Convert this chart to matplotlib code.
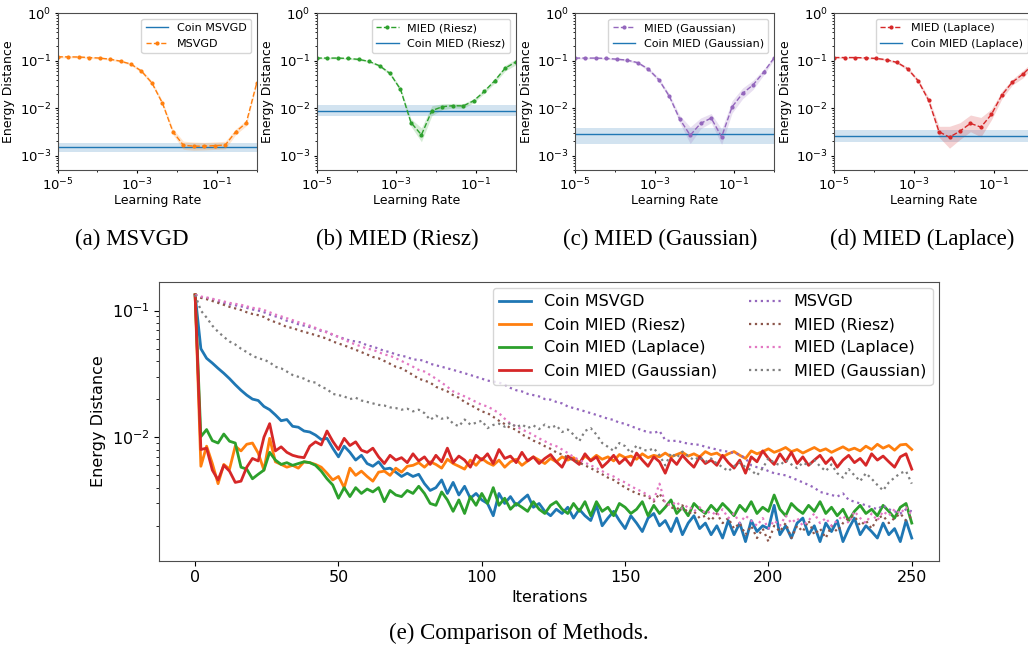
import numpy as np
import matplotlib
matplotlib.use("Agg")
import matplotlib.pyplot as plt
from matplotlib.ticker import FixedLocator, NullFormatter

# ---- top row: energy distance vs learning rate ----
lr = np.logspace(-5, 0, 20)

msvgd_lr = [0.121, 0.121, 0.120, 0.117, 0.114, 0.108, 0.098, 0.085, 0.0605, 0.034,
            0.0128, 0.0032, 0.00166, 0.00159, 0.00159, 0.00163, 0.00168, 0.0032, 0.0049, 0.034]
msvgd_spread = [1.05, 1.05, 1.05, 1.05, 1.05, 1.05, 1.05, 1.06, 1.08, 1.10,
                1.12, 1.15, 1.22, 1.22, 1.20, 1.20, 1.20, 1.15, 1.15, 1.10]
riesz_lr = [0.114, 0.114, 0.114, 0.112, 0.107, 0.097, 0.0785, 0.054, 0.025, 0.0050,
            0.00275, 0.0089, 0.0108, 0.0113, 0.0112, 0.0144, 0.0226, 0.038, 0.070, 0.094]
riesz_spread = [1.04, 1.04, 1.04, 1.04, 1.05, 1.05, 1.06, 1.08, 1.10, 1.20,
                1.40, 1.27, 1.15, 1.12, 1.12, 1.10, 1.10, 1.12, 1.15, 1.15]
gauss_lr = [0.114, 0.114, 0.114, 0.112, 0.108, 0.103, 0.091, 0.0667, 0.040, 0.018,
            0.0059, 0.0027, 0.0048, 0.0062, 0.0025, 0.0107, 0.0205, 0.031, 0.057, 0.114]
gauss_spread = [1.04, 1.04, 1.04, 1.04, 1.05, 1.05, 1.06, 1.08, 1.10, 1.12,
                1.20, 1.50, 1.30, 1.25, 1.45, 1.35, 1.30, 1.25, 1.15, 1.10]
laplace_lr = [0.117, 0.117, 0.117, 0.115, 0.112, 0.105, 0.092, 0.068, 0.038, 0.0148,
              0.0032, 0.00245, 0.0033, 0.0048, 0.0040, 0.0074, 0.019, 0.0355, 0.052, 0.085]
laplace_spread = [1.04, 1.04, 1.04, 1.04, 1.05, 1.05, 1.06, 1.08, 1.10, 1.15,
                  1.30, 1.70, 1.50, 1.50, 1.60, 1.30, 1.20, 1.15, 1.20, 1.15]

# coin baselines: mean, lower, upper
coin_msvgd_lr = [0.00154, 0.00117, 0.00181]
coin_riesz_lr = [0.00886, 0.00676, 0.0119]
coin_gauss_lr = [0.00286, 0.0018, 0.0039]
coin_laplace_lr = [0.00259, 0.00197, 0.00347]

# ---- bottom: energy distance vs iterations ----
iters = np.arange(0, 251, 2)

coin_msvgd = [
    .133, .050, .042, .0385, .035, .032, .029, .026, .0235, .0215,
    .020, .0195, .0175, .0165, .015, .0135, .0138, .0122, .0120, .0112,
    .0110, .0104, .0096, .0098, .0082, .0070, .0085, .0076, .0066, .0072,
    .0062, .0059, .0064, .0056, .0057, .0053, .0049, .0052, .0049, .0051,
    .0043, .0038, .0040, .0046, .0036, .0044, .0035, .0041, .0033, .0036,
    .0032, .0030, .0024, .0036, .0030, .0034, .0029, .0032, .0035, .0028,
    .0030, .0026, .0024, .0027, .0025, .0028, .0023, .0027, .0024, .0022,
    .0029, .0020, .0023, .0026, .0022, .0019, .0024, .0021, .0018, .0023,
    .0025, .0020, .0022, .0018, .0023, .0017, .0021, .0024, .0019, .0021,
    .0017, .0020, .0016, .0022, .0017, .0021, .0015, .0022, .0018, .0020,
    .0019, .0029, .0017, .0020, .0016, .0021, .0023, .0017, .0020, .0015,
    .0021, .0018, .0022, .0015, .0019, .0023, .0017, .0020, .0018, .0016,
    .0021, .0017, .0019, .0015, .0022, .0016]
coin_riesz = [
    .133, .0059, .0085, .0062, .0043, .0061, .0056, .0085, .0078, .0088,
    .0090, .0075, .0055, .0098, .0064, .0061, .0058, .0060, .0057, .0064,
    .0063, .0061, .0058, .0052, .0046, .0049, .0040, .0057, .0050, .0054,
    .0049, .0045, .0053, .0054, .0050, .0057, .0053, .0059, .0060, .0063,
    .0058, .0064, .0061, .0057, .0067, .0062, .0059, .0056, .0066, .0060,
    .0068, .0063, .0060, .0066, .0058, .0064, .0067, .0060, .0065, .0070,
    .0066, .0062, .0068, .0064, .0070, .0066, .0069, .0063, .0071, .0066,
    .0072, .0067, .0070, .0065, .0073, .0069, .0071, .0067, .0074, .0069,
    .0072, .0070, .0075, .0070, .0073, .0076, .0071, .0074, .0070, .0077,
    .0073, .0075, .0070, .0074, .0077, .0072, .0068, .0078, .0074, .0077,
    .0081, .0076, .0079, .0083, .0077, .0080, .0075, .0079, .0083, .0078,
    .0081, .0076, .0080, .0084, .0079, .0082, .0078, .0085, .0080, .0088,
    .0082, .0086, .0079, .0087, .0088, .0080]
coin_laplace = [
    .133, .0101, .0115, .0094, .0090, .0106, .0093, .0090, .0058, .0056,
    .0047, .0051, .0055, .0076, .0066, .0061, .0063, .0060, .0062, .0064,
    .0063, .0060, .0054, .0047, .0042, .0033, .0040, .0034, .0040, .0036,
    .0039, .0037, .0040, .0031, .0038, .0035, .0034, .0038, .0036, .0041,
    .0036, .0030, .0029, .0037, .0032, .0026, .0032, .0025, .0034, .0029,
    .0036, .0030, .0040, .0029, .0033, .0027, .0030, .0028, .0026, .0031,
    .0027, .0025, .0029, .0031, .0027, .0025, .0030, .0026, .0031, .0024,
    .0031, .0026, .0028, .0024, .0030, .0028, .0025, .0027, .0031, .0024,
    .0029, .0025, .0028, .0032, .0025, .0028, .0024, .0030, .0027, .0025,
    .0029, .0026, .0030, .0027, .0024, .0029, .0026, .0031, .0025, .0028,
    .0026, .0035, .0027, .0024, .0030, .0027, .0025, .0029, .0026, .0031,
    .0025, .0028, .0024, .0027, .0022, .0026, .0029, .0025, .0027, .0024,
    .0029, .0026, .0023, .0028, .0030, .0021]
coin_gauss = [
    .133, .0080, .0082, .0055, .0046, .0060, .0054, .0044, .0045, .0058,
    .0068, .0065, .0100, .0128, .0078, .0084, .0076, .0072, .0070, .0069,
    .0085, .0092, .0087, .0112, .0093, .0080, .0098, .0086, .0092, .0079,
    .0076, .0082, .0070, .0062, .0072, .0066, .0069, .0063, .0074, .0065,
    .0070, .0061, .0072, .0064, .0082, .0063, .0071, .0066, .0058, .0072,
    .0066, .0074, .0062, .0080, .0068, .0071, .0063, .0076, .0065, .0070,
    .0062, .0068, .0073, .0064, .0058, .0071, .0066, .0061, .0074, .0065,
    .0070, .0058, .0064, .0072, .0062, .0068, .0060, .0075, .0066, .0059,
    .0070, .0064, .0052, .0068, .0061, .0072, .0064, .0058, .0070, .0062,
    .0066, .0060, .0072, .0063, .0057, .0066, .0052, .0070, .0064, .0078,
    .0068, .0061, .0074, .0064, .0076, .0062, .0070, .0060, .0066, .0072,
    .0062, .0069, .0058, .0066, .0072, .0063, .0068, .0060, .0074, .0066,
    .0071, .0064, .0058, .0070, .0074, .0056]
msvgd = [
    .133, .128, .126, .122, .118, .115, .112, .110, .108, .105,
    .102, .100, .097, .093, .090, .087, .083, .081, .078, .076,
    .074, .072, .069, .068, .064, .062, .060, .058, .057, .056,
    .053, .052, .050, .048, .047, .045, .044, .043, .041, .041,
    .040, .038, .037, .036, .035, .034, .033, .032, .031, .030,
    .029, .028, .0275, .027, .026, .0245, .0235, .023, .022, .0215,
    .021, .020, .0198, .019, .0185, .0175, .017, .0165, .016, .0155,
    .015, .0145, .014, .0137, .013, .0128, .0122, .0118, .0113, .011,
    .0108, .0112, .0095, .0093, .0094, .0091, .0089, .0088, .0087, .0084,
    .0082, .0080, .0078, .0077, .0075, .0073, .0068, .0060, .0058, .0057,
    .0054, .0052, .0051, .0050, .0048, .0046, .0044, .0042, .0040, .0037,
    .0036, .0035, .0034, .0036, .0032, .0031, .0030, .0029, .0028, .0027,
    .0029, .0027, .0026, .0025, .0027, .0026]
mied_riesz = [
    .133, .126, .123, .119, .115, .111, .107, .104, .101, .097,
    .094, .092, .089, .084, .081, .078, .074, .073, .070, .068,
    .066, .064, .062, .060, .057, .055, .053, .051, .049, .047,
    .045, .043, .042, .040, .038, .036, .035, .033, .031, .029,
    .028, .027, .025, .024, .023, .0215, .0205, .019, .018, .017,
    .016, .0155, .0145, .0135, .0127, .0118, .0115, .0105, .0100, .0094,
    .0090, .0085, .0081, .0076, .0073, .0069, .0066, .0063, .0060, .0057,
    .0054, .0051, .0048, .0046, .0043, .0040, .0038, .0036, .0035, .0034,
    .0031, .0036, .0030, .0028, .0027, .0029, .0025, .0026, .0023, .0024,
    .0022, .0025, .0021, .0023, .0019, .0021, .0017, .0020, .0016, .0019,
    .0015, .0020, .0018, .0021, .0016, .0020, .0018, .0022, .0017, .0019,
    .0016, .0020, .0018, .0021, .0023, .0024, .0020, .0022, .0019, .0023,
    .0024, .0021, .0023, .0025, .0022, .0024]
mied_laplace = [
    .133, .129, .127, .124, .121, .118, .115, .113, .111, .108,
    .105, .104, .101, .097, .093, .090, .087, .084, .081, .079,
    .076, .073, .070, .067, .065, .062, .059, .056, .054, .052,
    .050, .049, .047, .045, .044, .042, .040, .038, .036, .034,
    .033, .031, .029, .027, .025, .023, .022, .021, .020, .019,
    .018, .0175, .0165, .0155, .014, .0128, .0122, .0115, .0110, .0104,
    .0098, .0093, .0088, .0085, .0080, .0075, .0070, .0066, .0063, .0060,
    .0057, .0054, .0051, .0049, .0046, .0044, .0041, .0039, .0037, .0035,
    .0032, .0043, .0030, .0029, .0031, .0027, .0029, .0026, .0028, .0025,
    .0026, .0024, .0027, .0023, .0025, .0021, .0024, .0022, .0020, .0023,
    .0019, .0022, .0020, .0024, .0021, .0023, .0020, .0022, .0025, .0021,
    .0023, .0020, .0022, .0024, .0021, .0026, .0023, .0021, .0025, .0022,
    .0026, .0024, .0027, .0025, .0028, .0024]
mied_gauss = [
    .133, .100, .088, .076, .068, .062, .057, .054, .050, .047,
    .044, .042, .041, .039, .036, .035, .033, .031, .030, .029,
    .0275, .027, .025, .024, .022, .0215, .021, .020, .0205, .0195,
    .019, .0185, .018, .0178, .0172, .017, .0165, .0168, .016, .0165,
    .0155, .0137, .0148, .0140, .0143, .0128, .0122, .0138, .0126, .0130,
    .0135, .0118, .0125, .0128, .0121, .0130, .0120, .0126, .0118, .0124,
    .0116, .0126, .0118, .0124, .0110, .0115, .0105, .0093, .0112, .0118,
    .0105, .0090, .0084, .0078, .0090, .0085, .0075, .0086, .0080, .0078,
    .0082, .0072, .0060, .0075, .0069, .0077, .0071, .0066, .0070, .0064,
    .0068, .0062, .0058, .0054, .0059, .0063, .0058, .0055, .0050, .0057,
    .0068, .0063, .0060, .0066, .0061, .0057, .0063, .0060, .0066, .0059,
    .0054, .0061, .0052, .0048, .0056, .0050, .0045, .0052, .0047, .0042,
    .0038, .0044, .0048, .0052, .0054, .0043]

SPINE = "0.3"


def style_spines(ax):
    for s in ax.spines.values():
        s.set_color(SPINE)


def lr_panel(ax, y, spread, coin, color, name, coin_name, coin_first):
    y = np.array(y)
    f = np.array(spread)
    ax.axhspan(coin[1], coin[2], color="C0", alpha=0.2, lw=0)
    h_coin = ax.axhline(coin[0], color="C0", lw=1.0, label=coin_name)
    ax.fill_between(lr, y / f, y * f, color=color, alpha=0.2, lw=0)
    h_m, = ax.plot(lr, y, ls="--", marker=".", ms=4, lw=1.0, color=color, label=name)
    ax.set_xscale("log")
    ax.set_yscale("log")
    ax.set_xlim(1e-5, 1)
    ax.set_ylim(5e-4, 1)
    ax.set_xticks([1e-5, 1e-3, 1e-1])
    ax.xaxis.set_minor_locator(FixedLocator([1e-4, 1e-2, 1]))
    ax.xaxis.set_minor_formatter(NullFormatter())
    ax.set_yticks([1e-3, 1e-2, 1e-1, 1])
    ax.tick_params(labelsize=9.5, length=2.5, pad=2)
    ax.tick_params(which="minor", length=1.5)
    ax.set_xlabel("Learning Rate", fontsize=9, labelpad=1)
    ax.set_ylabel("Energy Distance", fontsize=9, labelpad=3)
    handles = [h_coin, h_m] if coin_first else [h_m, h_coin]
    ax.legend(handles=handles, loc="upper right", fontsize=8)
    style_spines(ax)


fig = plt.figure(figsize=(10.28, 6.48), dpi=100)

W, H = 1028.0, 648.0
top_b = 1 - 170 / H
top_h = (170 - 13.3) / H
aw = 199 / W
lefts = [57.7, 316.7, 575.0, 834.3]
panels = [
    (msvgd_lr, msvgd_spread, coin_msvgd_lr, "C1", "MSVGD", "Coin MSVGD", True),
    (riesz_lr, riesz_spread, coin_riesz_lr, "C2", "MIED (Riesz)", "Coin MIED (Riesz)", False),
    (gauss_lr, gauss_spread, coin_gauss_lr, "C4", "MIED (Gaussian)", "Coin MIED (Gaussian)", False),
    (laplace_lr, laplace_spread, coin_laplace_lr, "C3", "MIED (Laplace)", "Coin MIED (Laplace)", False),
]
for left, p in zip(lefts, panels):
    ax = fig.add_axes([left / W, top_b, aw, top_h])
    lr_panel(ax, *p)

captions = ["(a) MSVGD", "(b) MIED (Riesz)", "(c) MIED (Gaussian)", "(d) MIED (Laplace)"]
cap_x = [132, 397, 660, 922]
for cx, cap in zip(cap_x, captions):
    fig.text(cx / W, 1 - 239 / H, cap, ha="center", va="center",
             family="Liberation Serif", fontsize=16.5)

# bottom comparison
ax = fig.add_axes([159.3 / W, 1 - 560.7 / H, (939 - 159.3) / W, (560.7 - 281.7) / H])
solid = [(coin_msvgd, "Coin MSVGD"), (coin_riesz, "Coin MIED (Riesz)"),
         (coin_laplace, "Coin MIED (Laplace)"), (coin_gauss, "Coin MIED (Gaussian)")]
dotted = [(msvgd, "MSVGD"), (mied_riesz, "MIED (Riesz)"),
          (mied_laplace, "MIED (Laplace)"), (mied_gauss, "MIED (Gaussian)")]
for i, (y, name) in enumerate(solid):
    ax.plot(iters, y, color="C%d" % i, lw=2.0, label=name)
for i, (y, name) in enumerate(dotted):
    ax.plot(iters, y, color="C%d" % (i + 4), lw=1.6, ls=":", label=name)
ax.set_yscale("log")
ax.set_xlim(-12.5, 259.5)
ax.set_ylim(1.06e-3, 0.169)
ax.set_xticks([0, 50, 100, 150, 200, 250])
ax.tick_params(labelsize=11.5)
ax.set_xlabel("Iterations", fontsize=11.5, labelpad=3)
ax.set_ylabel("Energy Distance", fontsize=11.5)
ax.legend(ncol=2, loc="upper right", fontsize=11.5, borderaxespad=0.4)
style_spines(ax)

fig.text(519 / W, 1 - 633 / H, "(e) Comparison of Methods.", ha="center", va="center",
         family="Liberation Serif", fontsize=16.5)

fig.savefig("out.png", dpi=100)
